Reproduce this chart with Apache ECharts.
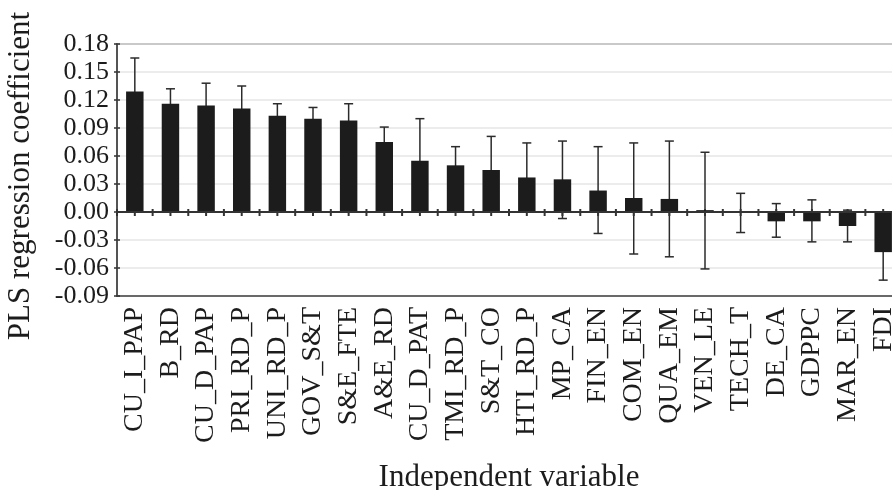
<!DOCTYPE html>
<html lang="en" style="height: 100%">
<head>
<meta charset="utf-8">
<title>PLS regression coefficients</title>
</head>
<body style="height: 100%; margin: 0; background: #fff">
<div id="container" style="height: 100%"></div>

<script type="text/javascript" src="https://cdn.jsdelivr.net/npm/echarts/dist/echarts.min.js"></script>

<script type="text/javascript">
var dom = document.getElementById('container');
var myChart = echarts.init(dom, null, { renderer: 'canvas' });

// variables, sorted by coefficient
var variables = ['CU_I_PAP', 'B_RD', 'CU_D_PAP', 'PRI_RD_P', 'UNI_RD_P', 'GOV_S&T', 'S&E_FTE',
    'A&E_RD', 'CU_D_PAT', 'TMI_RD_P', 'S&T_CO', 'HTI_RD_P', 'MP_CA', 'FIN_EN', 'COM_EN',
    'QUA_EM', 'VEN_LE', 'TECH_T', 'DE_CA', 'GDPPC', 'MAR_EN', 'FDI'];
var coef = [0.129, 0.116, 0.114, 0.111, 0.103, 0.100, 0.098, 0.075, 0.055, 0.050, 0.045,
    0.037, 0.035, 0.023, 0.015, 0.014, 0.002, -0.001, -0.010, -0.010, -0.015, -0.043];
// error bar ends
var errHigh = [0.165, 0.132, 0.138, 0.135, 0.116, 0.112, 0.116, 0.091, 0.100, 0.070, 0.081,
    0.074, 0.076, 0.070, 0.074, 0.076, 0.064, 0.020, 0.009, 0.013, 0.002, -0.014];
var errLow = [0.093, 0.100, 0.090, 0.087, 0.090, 0.089, 0.080, 0.059, 0.010, 0.030, 0.009,
    0.000, -0.007, -0.023, -0.045, -0.048, -0.061, -0.022, -0.027, -0.032, -0.032, -0.073];
var yTicks = { min: -0.09, max: 0.18, interval: 0.03 };

var serif = '"Liberation Serif", "DejaVu Serif", serif';
var ink = '#1c1c1c';

var errData = variables.map(function (v, i) {
    return [i, errLow[i], errHigh[i]];
});

function renderErr(params, api) {
    var i = api.value(0);
    var hi = api.coord([i, api.value(2)]);
    var lo = api.coord([i, api.value(1)]);
    var zero = api.coord([i, 0]);
    var band = api.size([1, 0])[0];
    var cap = 4.5;
    var st = { stroke: '#2b2b2b', lineWidth: 1.5 };
    var kids = [
        { type: 'line', shape: { x1: hi[0], y1: hi[1], x2: lo[0], y2: lo[1] }, style: st },
        { type: 'line', shape: { x1: hi[0] - cap, y1: hi[1], x2: hi[0] + cap, y2: hi[1] }, style: st },
        { type: 'line', shape: { x1: lo[0] - cap, y1: lo[1], x2: lo[0] + cap, y2: lo[1] }, style: st }
    ];
    // small ticks on the zero line: bar centre and left boundary
    var tx = [zero[0], zero[0] - band / 2];
    if (i === variables.length - 1) tx.push(zero[0] + band / 2);
    tx.forEach(function (x) {
        kids.push({ type: 'line', shape: { x1: x, y1: zero[1] - 3, x2: x, y2: zero[1] + 4 },
            style: { stroke: '#333', lineWidth: 2 } });
    });
    return { type: 'group', children: kids };
}

var option = {
    animation: false,
    grid: {
        left: 117,
        top: 44,
        right: -9,
        bottom: 194,
        containLabel: false,
        outerBoundsMode: 'none',
        show: true,
        borderColor: '#4a4a4a',
        borderWidth: 1.5
    },
    xAxis: {
        type: 'category',
        data: variables,
        position: 'bottom',
        axisLine: { onZero: false, lineStyle: { color: '#4a4a4a', width: 1.5 } },
        axisTick: { show: false },
        axisLabel: {
            rotate: 90,
            interval: 0,
            margin: 11,
            fontFamily: serif,
            fontSize: 28,
            color: ink
        },
        name: 'Independent variable',
        nameLocation: 'middle',
        nameGap: 166,
        nameTextStyle: { fontFamily: serif, fontSize: 31, color: ink }
    },
    yAxis: [
        {
            type: 'value',
            min: yTicks.min,
            max: yTicks.max,
            interval: yTicks.interval,
            axisLine: { show: true, lineStyle: { color: '#4a4a4a', width: 1.5 } },
            axisTick: { show: true, length: 3, lineStyle: { color: '#333', width: 1.5 } },
            axisLabel: {
                margin: 8,
                fontFamily: serif,
                fontSize: 26,
                color: ink,
                formatter: function (v) { return v.toFixed(2); }
            },
            splitLine: { lineStyle: { color: '#e6e6e6', width: 1.5 } },
            name: 'PLS regression coefficient',
            nameLocation: 'middle',
            nameGap: 81,
            nameTextStyle: { fontFamily: serif, fontSize: 31, color: ink, padding: [0, 12, 0, 0] }
        },
        {
            // inward half of the crossing ticks
            type: 'value',
            position: 'left',
            min: yTicks.min,
            max: yTicks.max,
            interval: yTicks.interval,
            axisLine: { show: false },
            axisTick: { show: true, inside: true, length: 3, lineStyle: { color: '#333', width: 1.5 } },
            axisLabel: { show: false },
            splitLine: { show: false }
        }
    ],
    series: [
        {
            type: 'custom',
            data: errData,
            renderItem: renderErr,
            encode: { x: 0, y: [1, 2] },
            z: 1
        },
        {
            type: 'bar',
            data: coef,
            barWidth: '49%',
            itemStyle: { color: ink },
            z: 2,
            markLine: {
                silent: true,
                symbol: 'none',
                label: { show: false },
                lineStyle: { color: '#333', width: 2, type: 'solid' },
                data: [{ yAxis: 0 }]
            }
        }
    ]
};

myChart.setOption(option);
window.addEventListener('resize', myChart.resize);
</script>
</body>
</html>
